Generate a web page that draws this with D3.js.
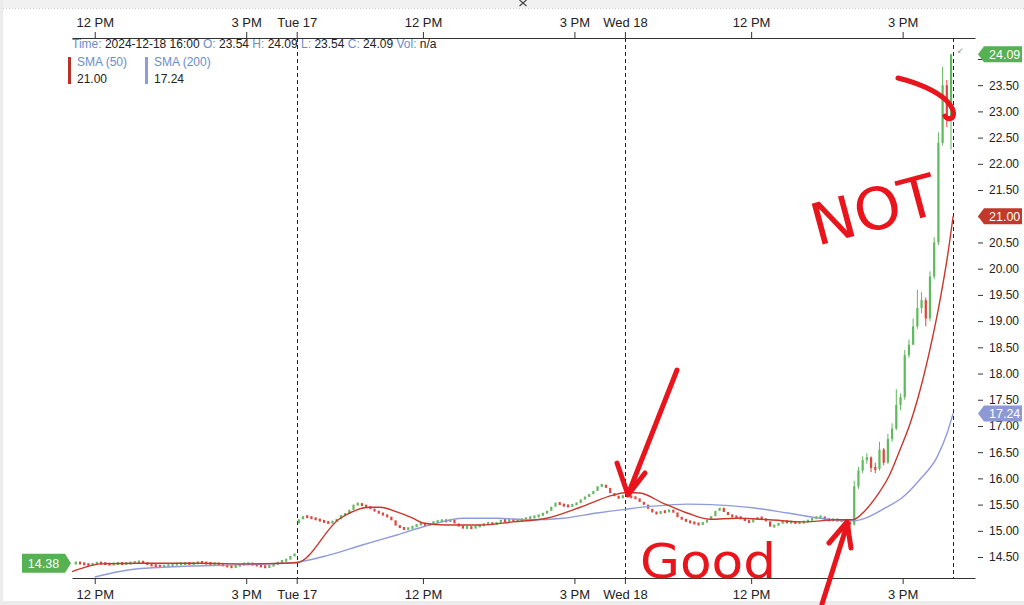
<!DOCTYPE html>
<html><head><meta charset="utf-8">
<script src="https://cdn.jsdelivr.net/npm/d3@7/dist/d3.min.js"></script>
<style>
html,body{margin:0;padding:0;background:#fff;}
svg{display:block;font-family:"Liberation Sans",Arial,Helvetica,sans-serif;}
</style></head><body>
<svg id="chart" width="1024" height="605"></svg>
<script>
// ================= DATA =================
const sessionDays = ["12-16", "12-17", "12-18"];
const barMinutes = 5;
const monFirstBar = "11:35";
const monOpen = 14.38;
const monClose = [14.39,14.38,14.36,14.35,14.37,14.39,14.38,14.37,14.36,14.37,
  14.38,14.37,14.38,14.39,14.40,14.41,14.39,14.36,14.34,14.33,
  14.32,14.33,14.34,14.36,14.37,14.37,14.38,14.37,14.38,14.40,
  14.39,14.38,14.37,14.37,14.36,14.34,14.32,14.31,14.33,14.36,
  14.37,14.37,14.36,14.34,14.32,14.31,14.33,14.36,14.40,14.43,
  14.45,14.52,14.56];
const tueOpen = 15.14;
const tueClose = [15.22,15.28,15.26,15.24,15.22,15.19,15.17,15.15,15.18,15.22,
  15.30,15.32,15.40,15.50,15.52,15.48,15.46,15.42,15.37,15.34,
  15.30,15.27,15.20,15.10,15.06,15.03,15.05,15.08,15.12,15.14,
  15.10,15.14,15.17,15.18,15.20,15.18,15.21,15.14,15.08,15.06,
  15.07,15.05,15.09,15.10,15.13,15.15,15.12,15.16,15.20,15.19,
  15.21,15.19,15.20,15.22,15.24,15.26,15.27,15.30,15.33,15.38,
  15.46,15.54,15.50,15.48,15.47,15.50,15.53,15.60,15.65,15.70,
  15.76,15.85,15.88,15.82,15.72,15.66,15.62,15.68];
const wedClose = [15.66,15.64,15.62,15.55,15.50,15.42,15.35,15.33,15.37,15.36,
  15.40,15.35,15.26,15.22,15.18,15.16,15.14,15.12,15.16,15.21,
  15.28,15.38,15.44,15.36,15.30,15.27,15.26,15.24,15.19,15.16,
  15.22,15.25,15.24,15.18,15.08,15.10,15.15,15.18,15.16,15.17,
  15.15,15.16,15.17,15.20,15.24,15.26,15.27,15.22,15.20,15.22,
  15.19,15.20,15.17,
  15.12,15.85,16.15,16.35,16.40,16.20,16.18,16.55,16.30,16.75,
  16.95,17.40,17.55,18.35,18.55,18.90,19.25,19.40,19.05,19.85,
  20.50,22.40,23.50,22.90,24.09];
const wedPmFirstBar = "13:55";
const wedPmHigh = [15.20,15.95,16.22,16.42,16.48,16.42,16.30,16.70,16.58,16.85,
  17.05,17.70,17.62,18.45,18.65,19.05,19.60,19.55,19.45,19.95,20.60,22.60,23.85,23.60,24.09];
const wedPmLow = [14.82,15.10,15.80,16.10,16.28,16.12,16.10,16.15,16.25,16.28,
  16.70,16.92,17.30,17.50,18.30,18.55,18.85,19.15,18.90,19.00,19.80,20.45,22.35,22.70,22.27];

const sma50Times = ["12-16 11:33","12-16 11:54","12-16 12:06","12-16 12:54","12-16 14:05","12-16 15:04",
  "12-17 09:30","12-17 10:21","12-17 10:57","12-17 11:09","12-17 11:29","12-17 11:48","12-17 12:00",
  "12-17 12:28","12-17 13:08","12-17 13:47","12-17 14:27","12-17 15:07","12-17 15:46",
  "12-18 09:32","12-18 09:48","12-18 10:15","12-18 10:44","12-18 11:11","12-18 11:43","12-18 12:22",
  "12-18 13:02","12-18 13:42","12-18 14:01","12-18 14:15","12-18 14:30","12-18 14:44","12-18 14:57",
  "12-18 15:09","12-18 15:21","12-18 15:33","12-18 15:45","12-18 15:53","12-18 16:00"];
const sma50Values = [14.22,14.33,14.37,14.38,14.38,14.37,
  14.39,15.23,15.45,15.45,15.36,15.24,15.15,15.11,15.11,15.17,15.24,15.45,15.68,
  15.73,15.72,15.53,15.34,15.22,15.24,15.21,15.17,15.21,15.21,15.38,15.68,16.05,16.55,
  17.05,17.70,18.50,19.45,20.20,21.00];
const sma200Times = ["12-16 12:00","12-16 12:54","12-16 14:44","12-16 15:55",
  "12-17 10:09","12-17 10:48","12-17 11:29","12-17 12:08","12-17 12:48","12-17 13:28","12-17 14:07",
  "12-17 14:47","12-17 15:27","12-18 09:30","12-18 10:03","12-18 10:44","12-18 11:23","12-18 12:02",
  "12-18 12:43","12-18 13:22","12-18 14:01","12-18 14:41","12-18 15:00","12-18 15:20","12-18 15:41",
  "12-18 15:53","12-18 16:00"];
const sma200Values = [14.12,14.28,14.35,14.39,
  14.54,14.73,14.92,15.11,15.24,15.24,15.21,15.24,15.34,
  15.41,15.47,15.51,15.49,15.44,15.34,15.24,15.19,15.45,15.64,15.97,16.41,16.87,17.24];

const timeTickTimes = ["12-16 12:00","12-16 15:00","12-17 09:30","12-17 12:00","12-17 15:00","12-18 09:30","12-18 12:00","12-18 15:00"];
const timeTickLabels = ["12 PM","3 PM","Tue 17","12 PM","3 PM","Wed 18","12 PM","3 PM"];
const dividerTimes = ["12-17 09:30","12-18 09:30","12-18 16:00"];
const priceTicks = [14.5,15,15.5,16,16.5,17,17.5,18,18.5,19,19.5,20,20.5,21,21.5,22,22.5,23,23.5,24];
const xDomainTimes = ["12-16 11:33","12-18 16:26"];
const yDomain = [14.1, 24.4];

const infoLabels = ["Time:","O:","H:","L:","C:","Vol:"];
const infoValues = ["2024-12-18 16:00","23.54","24.09","23.54","24.09","n/a"];
const legendNames = ["SMA (50)","SMA (200)"];
const legendValues = ["21.00","17.24"];
const lastPrice = 24.09;
const firstPrice = 14.38;

// ================= HELPERS =================
function tIndex(s){ // "MM-DD HH:MM" -> trading minutes since Mon 9:30
  const [d, hm] = s.split(" ");
  const [h, m] = hm.split(":").map(Number);
  return sessionDays.indexOf(d) * 390 + (h * 60 + m - 570);
}
const svg = d3.select("#chart");
const W = 1024, H = 605;
const x = d3.scaleLinear().domain(xDomainTimes.map(tIndex)).range([72, 975]);
const y = d3.scaleLinear().domain(yDomain).range([578, 38]);

// candles
const candles = [];
function addDay(day, first, open0, closes){
  const start = tIndex(day + " " + first);
  let o = open0;
  closes.forEach((c, i) => {
    candles.push({t: start + i * barMinutes + barMinutes / 2, o, c, h: Math.max(o, c), l: Math.min(o, c), day, i});
    o = c;
  });
}
addDay("12-16", monFirstBar, monOpen, monClose);
addDay("12-17", "09:30", tueOpen, tueClose);
addDay("12-18", "09:30", tueClose[tueClose.length - 1], wedClose);
const pmStart = tIndex("12-18 " + wedPmFirstBar) + barMinutes / 2;
candles.forEach(d => {
  if (d.day === "12-18" && d.t >= pmStart) {
    const k = Math.round((d.t - pmStart) / barMinutes);
    d.h = wedPmHigh[k]; d.l = wedPmLow[k];
  }
});

// ================= FRAME =================
svg.append("rect").attr("width", W).attr("height", H).attr("fill", "#fff");
svg.append("rect").attr("x", 0).attr("y", 0).attr("width", W).attr("height", 8).attr("fill", "#f1f1f1");
svg.append("line").attr("x1", 0).attr("x2", W).attr("y1", 8.5).attr("y2", 8.5)
  .attr("stroke", "#c9c9c9").attr("stroke-dasharray", "1,2");
svg.append("rect").attr("x", 0).attr("y", 0).attr("width", 3).attr("height", H).attr("fill", "#ececec");
svg.append("path").attr("d", "M519.5,0 L523,3 L526.5,0 M519.5,6 L523,3 L526.5,6")
  .attr("stroke", "#444").attr("fill", "none").attr("stroke-width", 1.2);

// dividers
svg.append("g").selectAll("line").data(dividerTimes).join("line")
  .attr("x1", d => Math.round(x(tIndex(d))) + 0.5).attr("x2", d => Math.round(x(tIndex(d))) + 0.5)
  .attr("y1", 38).attr("y2", 578)
  .attr("stroke", "#222").attr("stroke-width", 1).attr("stroke-dasharray", "4,3");

// candles
const cg = svg.append("g");
const up = "#5fba5d", dn = "#e0443c";
cg.selectAll("line.w").data(candles.filter(d => d.h > Math.max(d.o, d.c) || d.l < Math.min(d.o, d.c)))
  .join("line").attr("class", "w")
  .attr("x1", d => x(d.t)).attr("x2", d => x(d.t))
  .attr("y1", d => y(d.h)).attr("y2", d => y(d.l))
  .attr("stroke", d => d.c >= d.o ? up : dn).attr("stroke-width", 1);
const minH = 3;
cg.selectAll("rect").data(candles).join("rect")
  .attr("x", d => x(d.t) - 1.1).attr("width", 2.2)
  .attr("y", d => { const hgt = Math.abs(y(d.o) - y(d.c)); const mid = (y(d.o) + y(d.c)) / 2; return hgt < minH ? mid - minH / 2 : Math.min(y(d.o), y(d.c)); })
  .attr("height", d => Math.max(minH, Math.abs(y(d.o) - y(d.c))))
  .attr("fill", d => d.c >= d.o ? up : dn);

// SMAs
const line = d3.line().x(d => x(tIndex(d[0]))).y(d => y(d[1])).curve(d3.curveMonotoneX);
svg.append("path").attr("d", line(d3.zip(sma200Times, sma200Values)))
  .attr("fill", "none").attr("stroke", "#8f9cdb").attr("stroke-width", 1.4);
svg.append("path").attr("d", line(d3.zip(sma50Times, sma50Values)))
  .attr("fill", "none").attr("stroke", "#c8372d").attr("stroke-width", 1.4);

// ================= AXES =================
const tickMap = new Map(timeTickTimes.map((t, i) => [tIndex(t), timeTickLabels[i]]));
function styleAxis(g){
  g.select(".domain").attr("stroke", "#333");
  g.selectAll(".tick line").attr("stroke", "#333");
  g.selectAll(".tick text").attr("fill", "#222").style("font-size", "13px")
   .style("font-family", '"Liberation Sans", Arial, sans-serif');
}
svg.append("g").attr("transform", "translate(0,38)")
  .call(d3.axisTop(x).tickValues([...tickMap.keys()]).tickFormat(d => tickMap.get(d)).tickSize(6).tickSizeOuter(0).tickPadding(5))
  .call(styleAxis);
svg.append("g").attr("transform", "translate(0,578)")
  .call(d3.axisBottom(x).tickValues([...tickMap.keys()]).tickFormat(d => tickMap.get(d)).tickSize(6).tickSizeOuter(0).tickPadding(6))
  .call(styleAxis);

const badgeValues = [lastPrice, sma50Values[sma50Values.length - 1], sma200Values[sma200Values.length - 1]];
const ra = svg.append("g").attr("transform", "translate(978,0)")
  .call(d3.axisRight(y).tickValues(priceTicks).tickFormat(d3.format(".2f")).tickSize(5).tickPadding(6));
ra.select(".domain").remove();
ra.selectAll(".tick line").attr("stroke", "#333");
ra.selectAll(".tick text").attr("fill", "#222").style("font-size", "12px")
  .style("font-family", '"Liberation Sans", Arial, sans-serif')
  // labels hidden behind a price badge, as in the original
  .filter(d => badgeValues.some(b => Math.abs(y(b) - y(d)) < 9 && Math.abs(b - 17.24) > 0.01)).remove();

// bottom band (clips bottom labels)
svg.append("rect").attr("x", 0).attr("y", 601).attr("width", W).attr("height", 4).attr("fill", "#ececec");

// ================= BADGES =================
function rightBadge(v, color){
  const cy = y(v);
  svg.append("path").attr("d", `M978,${cy} L984,${cy - 8} L1022,${cy - 8} L1022,${cy + 8} L984,${cy + 8} Z`).attr("fill", color);
  svg.append("text").attr("x", 989).attr("y", cy + 4.3).attr("fill", "#fff")
    .style("font-size", "12.5px").text(d3.format(".2f")(v));
}
rightBadge(badgeValues[0], "#55b152");
rightBadge(badgeValues[1], "#c0392b");
rightBadge(badgeValues[2], "#8c99d6");
{
  const cy = y(firstPrice);
  svg.append("path").attr("d", `M22,${cy - 9.5} L65,${cy - 9.5} L71,${cy} L65,${cy + 9.5} L22,${cy + 9.5} Z`).attr("fill", "#55b152");
  svg.append("text").attr("x", 43.5).attr("y", cy + 4.5).attr("text-anchor", "middle").attr("fill", "#fff")
    .style("font-size", "12.5px").text(d3.format(".2f")(firstPrice));
}
svg.append("text").attr("x", 957).attr("y", 53).attr("fill", "#888").style("font-size", "8px").text("↙");

// ================= INFO / LEGEND =================
const info = svg.append("text").attr("x", 72).attr("y", 48).style("font-size", "12px");
infoLabels.forEach((l, i) => {
  info.append("tspan").attr("fill", "#6a8dcc").text((i ? " " : "") + l + " ");
  info.append("tspan").attr("fill", "#222").text(infoValues[i]);
});
const legendColors = ["#b8322a", "#8f9cdb"];
const legendX = [68, 145];
legendNames.forEach((n, i) => {
  svg.append("rect").attr("x", legendX[i]).attr("y", 57).attr("width", 3).attr("height", 27).attr("fill", legendColors[i]);
  svg.append("text").attr("x", legendX[i] + 9).attr("y", 66).attr("fill", "#6a8dcc").style("font-size", "12px").text(n);
  svg.append("text").attr("x", legendX[i] + 9).attr("y", 83).attr("fill", "#222").style("font-size", "12px").text(legendValues[i]);
});

// ================= HANDWRITTEN ANNOTATIONS =================
const ink = "#e8161c";
const ann = svg.append("g").attr("stroke", ink).attr("fill", "none")
  .attr("stroke-width", 5).attr("stroke-linecap", "round").attr("stroke-linejoin", "round");
ann.append("path").attr("d", "M677,370 L629,492 M617,463 L628,495 L645,473");
ann.append("path").attr("d", "M822,604 L847,525 M829,543 L847,522 L851,548");
ann.append("path").attr("d", "M898,78 Q930,86 946,100 Q957,112 952,118 Q947,120 945,116");
svg.append("text").attr("x", 640).attr("y", 578).attr("fill", ink)
  .attr("textLength", 136).attr("lengthAdjust", "spacingAndGlyphs")
  .style("font-family", '"DejaVu Sans", sans-serif').style("font-size", "48px").text("Good");
svg.append("text").attr("transform", "translate(817,246) rotate(-15)").attr("fill", ink)
  .attr("textLength", 128).attr("lengthAdjust", "spacingAndGlyphs")
  .style("font-family", '"DejaVu Sans", sans-serif').style("font-size", "58px").text("NOT");
</script>
</body></html>
